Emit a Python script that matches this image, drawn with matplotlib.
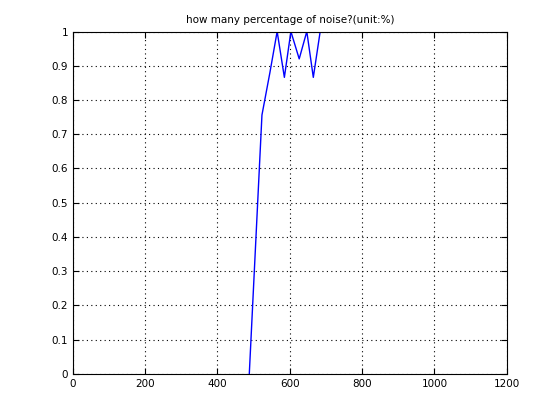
import matplotlib
matplotlib.use('Agg')
import matplotlib.pyplot as plt

# noise percentage curve
x_vals = [488, 523, 545, 565, 585, 603, 626, 647, 665, 684]
y_vals = [0.0, 0.756, 0.88, 1.0, 0.866, 1.0, 0.92, 1.0, 0.866, 1.0]
x_ticks = [0, 200, 400, 600, 800, 1000, 1200]
y_ticks = [0, 0.1, 0.2, 0.3, 0.4, 0.5, 0.6, 0.7, 0.8, 0.9, 1]
y_labels = ['0', '0.1', '0.2', '0.3', '0.4', '0.5', '0.6', '0.7', '0.8', '0.9', '1']

fig = plt.figure(figsize=(5.6, 4.2), dpi=100)
ax = fig.add_axes([0.13, 0.11, 0.775, 0.815])
ax.plot(x_vals, y_vals, color='#0000ff', linewidth=1.0)

ax.set_xlim(0, 1200)
ax.set_ylim(0, 1)
ax.set_xticks(x_ticks)
ax.set_xticklabels([str(v) for v in x_ticks])
ax.set_yticks(y_ticks)
ax.set_yticklabels(y_labels)
ax.grid(True, linestyle=(0, (1, 3)), color='black', linewidth=0.8)
ax.tick_params(direction='in', top=True, right=True, labelsize=7.5, length=4)
for s in ax.spines.values():
    s.set_linewidth(0.8)
ax.set_title('how many percentage of noise?(unit:%)', fontsize=7.5)

fig.savefig('out.png', dpi=100)
